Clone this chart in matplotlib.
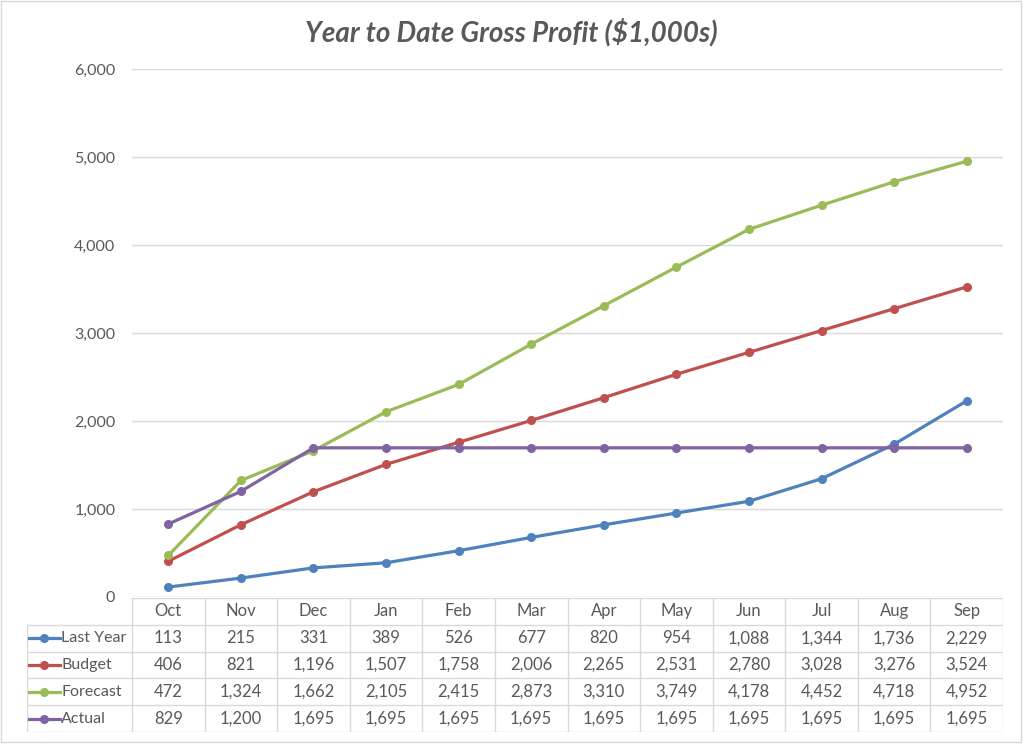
import matplotlib.pyplot as plt
from matplotlib.lines import Line2D
from matplotlib.patches import Rectangle

plt.rcParams['font.family'] = ['Lato', 'DejaVu Sans']

months = ['Oct', 'Nov', 'Dec', 'Jan', 'Feb', 'Mar', 'Apr', 'May', 'Jun', 'Jul', 'Aug', 'Sep']
last_year = [113, 215, 331, 389, 526, 677, 820, 954, 1088, 1344, 1736, 2229]
budget = [406, 821, 1196, 1507, 1758, 2006, 2265, 2531, 2780, 3028, 3276, 3524]
forecast = [472, 1324, 1662, 2105, 2415, 2873, 3310, 3749, 4178, 4452, 4718, 4952]
actual = [829, 1200, 1695, 1695, 1695, 1695, 1695, 1695, 1695, 1695, 1695, 1695]

names = ['Last Year', 'Budget', 'Forecast', 'Actual']
series = [last_year, budget, forecast, actual]
colors = ['#4F81BD', '#C0504D', '#9BBB59', '#8064A2']

txt = '#595959'
grid = '#D9D9D9'
W, H = 1023, 744

fig = plt.figure(figsize=(W / 100, H / 100), dpi=100)

# outer chart border
fig.patches.append(Rectangle((1 / W, 2 / H), 1020 / W, 741 / H, transform=fig.transFigure,
                             fill=False, edgecolor=grid, lw=1))

# plot area: x 132..1003, y 69..597
ax = fig.add_axes([132 / W, (H - 597) / H, 871 / W, 528 / H])
x = list(range(len(months)))
for vals, c in zip(series, colors):
    ax.plot(x, vals, color=c, lw=2.3, marker='o', ms=5.5, zorder=3)

ax.set_xlim(-0.5, 11.5)
ax.set_ylim(0, 6000)
ax.set_yticks(range(0, 6001, 1000))
ax.set_yticklabels([f'{v:,}' for v in range(0, 6001, 1000)])
ax.yaxis.grid(True, color=grid, lw=1)
ax.set_axisbelow(True)
ax.set_xticks([])
for s in ['top', 'right', 'left', 'bottom']:
    ax.spines[s].set_visible(False)
ax.tick_params(axis='y', length=0, pad=12, labelsize=11.5, labelcolor=txt)

fig.text(0.5, 1 - 32 / H, 'Year to Date Gross Profit ($1,000s)', ha='center', va='center',
         fontsize=20, fontweight='bold', fontstyle='italic', color=txt)

# data table: x 27..1003, y 598..732
colw = 871 / 12
legw = (132 - 27) / colw
tax = fig.add_axes([27 / W, (H - 732) / H, (1003 - 27) / W, 134 / H])
tax.set_xlim(-0.5 - legw, 11.5)
tax.set_ylim(5, 0)
tax.axis('off')

for i in range(13):
    tax.plot([i - 0.5, i - 0.5], [0, 5], color=grid, lw=1)
tax.plot([-0.5 - legw, -0.5 - legw], [1, 5], color=grid, lw=1)
tax.plot([-0.5, 11.5], [0, 0], color=grid, lw=1)
for r in range(1, 6):
    tax.plot([-0.5 - legw, 11.5], [r, r], color=grid, lw=1)

for j, m in enumerate(months):
    tax.text(j, 0.5, m, ha='center', va='center', fontsize=12, color=txt)

for r, (name, vals, c) in enumerate(zip(names, series, colors)):
    y = r + 1.5
    x0 = -0.5 - legw + 0.03
    tax.add_line(Line2D([x0, x0 + 0.42], [y, y], color=c, lw=2.3))
    tax.plot([x0 + 0.21], [y], marker='o', ms=5.5, color=c)
    tax.text(x0 + 0.44, y, name, ha='left', va='center', fontsize=11.5, color=txt)
    for j, v in enumerate(vals):
        tax.text(j, y, f'{v:,}', ha='center', va='center', fontsize=12, color=txt)

fig.savefig('out.png', dpi=100)
